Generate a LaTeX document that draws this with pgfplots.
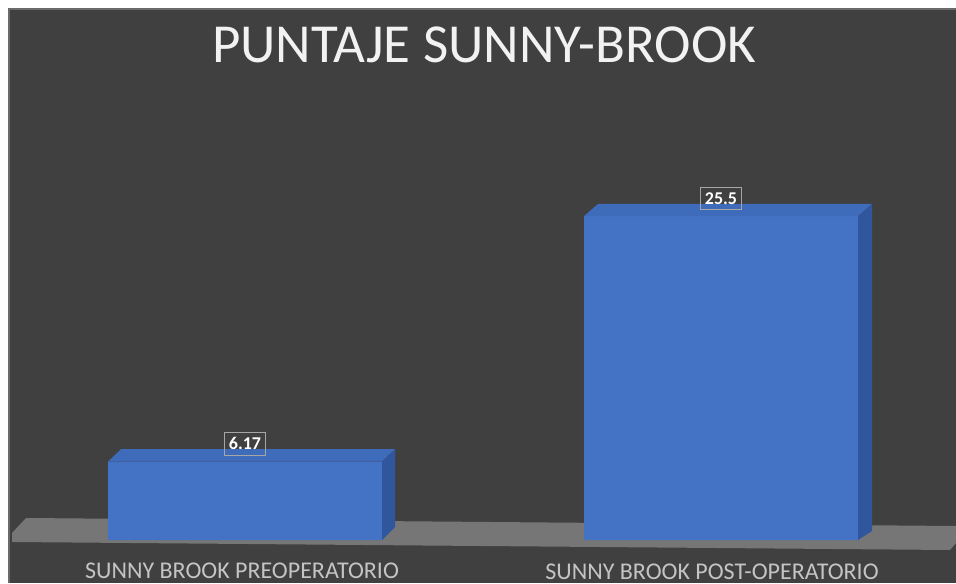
\documentclass[border=0pt]{standalone}
\usepackage{fontspec}
\setmainfont{Carlito}
\usepackage{pgfplots}
\pgfplotsset{compat=1.18}

\definecolor{bgdark}{HTML}{404040}
\definecolor{bgedge}{HTML}{6A6A6A}
\definecolor{floorgray}{HTML}{767676}
\definecolor{barfront}{HTML}{4472C4}
\definecolor{bartop}{HTML}{3F6BBB}
\definecolor{barside}{HTML}{30579E}
\definecolor{labgray}{HTML}{C4C4C4}

\begin{document}
\begin{tikzpicture}
% x in pixels of the original (0..956), y in score units
% y pixel = 540 - 12.7*value
\begin{axis}[
    width=478pt, height=291.5pt,
    scale only axis,
    xmin=0, xmax=956,
    ymin=-3.386, ymax=42.520,
    hide axis,
    clip=false,
    axis background/.style={fill=white},
]
% chart area
\fill[bgdark] (rel axis cs:0.0094,0) rectangle (rel axis cs:1,0.9846);
\draw[bgedge, line width=1pt] (rel axis cs:0.0094,0) -- (rel axis cs:0.0094,0.9846) -- (rel axis cs:1,0.9846);

% floor
\addplot[fill=floorgray, draw=none] coordinates {
    (26,1.732) (956,1.102) (956,-0.236) (950,-0.787) (12,-0.157) (12,0.551)
} -- cycle;

% bars
\addplot[ybar, bar width=274, fill=barfront, draw=none,
    nodes near coords,
    /pgf/number format/assume math mode=true,
    every node near coord/.append style={
        font=\bfseries\fontsize{9}{10}\selectfont, text=white,
        draw=white!65!black, line width=0.5pt,
        inner xsep=2pt, inner ysep=2.6pt,
        yshift=3pt},
] coordinates {(245,6.17) (721,25.5)};

% depth of the bars: top and side faces
\addplot[fill=bartop, draw=none] coordinates {(108,6.17) (382,6.17) (395,7.15) (121,7.15)} -- cycle;
\addplot[fill=barside, draw=none] coordinates {(382,6.17) (395,7.15) (395,1.02) (382,0)} -- cycle;
\addplot[fill=bartop, draw=none] coordinates {(584,25.5) (858,25.5) (872,26.46) (598,26.46)} -- cycle;
\addplot[fill=barside, draw=none] coordinates {(858,25.5) (872,26.46) (872,0.71) (858,0)} -- cycle;

% title and category names
\node[anchor=base, text=white!95!black, font=\fontsize{27.5}{32}\selectfont]
    at (rel axis cs:0.5063,0.8920) {PUNTAJE SUNNY-BROOK};
\node[anchor=base, text=labgray, font=\fontsize{12}{14}\selectfont]
    at (axis cs:242,-3.07) {SUNNY BROOK PREOPERATORIO};
\node[anchor=base, text=labgray, font=\fontsize{12}{14}\selectfont]
    at (axis cs:712,-3.10) {SUNNY BROOK POST-OPERATORIO};
\end{axis}
\pgfresetboundingbox
\useasboundingbox (0,0) rectangle (478pt,291.5pt);
\end{tikzpicture}
\end{document}
